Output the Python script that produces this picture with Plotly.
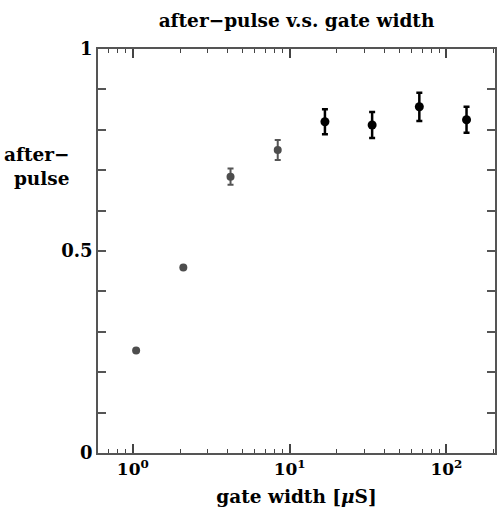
import plotly.graph_objects as go

# Data
gate_width_grey = [1.05, 2.1, 4.2, 8.4]
afterpulse_grey = [0.254, 0.459, 0.684, 0.75]
err_grey = [0.0, 0.0, 0.02, 0.025]

gate_width_black = [16.8, 33.6, 67.2, 134.4]
afterpulse_black = [0.82, 0.812, 0.857, 0.825]
err_black = [0.031, 0.032, 0.035, 0.032]

y_tickvals = [0, 0.5, 1.0]
y_ticktext = ["<b>0</b>", "<b>0.5</b>", "<b>1</b>"]
y_minorvals = [0.1, 0.2, 0.3, 0.4, 0.6, 0.7, 0.8, 0.9]
x_tickvals = [1, 10, 100]
x_ticktext = ["<b>10<sup>0</sup></b>", "<b>10<sup>1</sup></b>", "<b>10<sup>2</sup></b>"]
x_minorvals = [0.7, 0.8, 0.9, 2, 3, 4, 5, 6, 7, 8, 9,
               20, 30, 40, 50, 60, 70, 80, 90, 200]

FONT = "DejaVu Serif"

fig = go.Figure()
fig.add_trace(go.Scatter(
    x=gate_width_grey, y=afterpulse_grey, mode="markers",
    marker=dict(color="#4d4d4d", size=8),
    error_y=dict(type="data", array=err_grey, visible=True, color="#555555",
                 thickness=2, width=3),
    showlegend=False))
fig.add_trace(go.Scatter(
    x=gate_width_black, y=afterpulse_black, mode="markers",
    marker=dict(color="#000000", size=9),
    error_y=dict(type="data", array=err_black, visible=True, color="#000000",
                 thickness=2.5, width=3),
    showlegend=False))

fig.update_layout(
    width=500, height=524,
    margin=dict(l=98, r=3, t=49, b=71),
    plot_bgcolor="white", paper_bgcolor="white",
    font=dict(family=FONT, color="black", size=18),
    title=dict(text="<b>after\u2212pulse v.s. gate width</b>", x=0.5, xref="paper",
               y=1 - 21 / 524, yref="container", xanchor="center", yanchor="middle",
               font=dict(family=FONT, size=18.5, color="black")),
    annotations=[dict(text="<b>after\u2212<br>pulse</b>", x=-0.065, y=0.71,
                      xref="paper", yref="paper", xanchor="right", yanchor="middle",
                      align="right", showarrow=False,
                      font=dict(family=FONT, size=18.5, color="black"))],
)
fig.update_xaxes(
    type="log", range=[-0.222, 2.31],
    tickvals=x_tickvals, ticktext=x_ticktext,
    ticks="inside", ticklen=9, tickwidth=1.5, tickcolor="#444",
    minor=dict(tickvals=x_minorvals, ticks="inside", ticklen=4, tickwidth=1.2,
               tickcolor="#444", showgrid=False),
    showline=True, linecolor="#555", linewidth=1.5, mirror="ticks",
    showgrid=False, zeroline=False,
    tickfont=dict(family=FONT, size=17, color="black"),
    title=dict(text="<b>gate width [<i>\u03bc</i>S]</b>", standoff=12,
               font=dict(family=FONT, size=18.5, color="black")),
)
fig.update_yaxes(
    range=[0, 1], tickvals=y_tickvals, ticktext=y_ticktext,
    ticks="inside", ticklen=8, tickwidth=1.5, tickcolor="#555",
    minor=dict(tickvals=y_minorvals, ticks="inside", ticklen=8, tickwidth=1.5,
               tickcolor="#555", showgrid=False),
    showline=True, linecolor="#555", linewidth=1.5, mirror="ticks",
    showgrid=False, zeroline=False,
    tickfont=dict(family=FONT, size=18, color="black"),
)

fig.write_html("out.html")
